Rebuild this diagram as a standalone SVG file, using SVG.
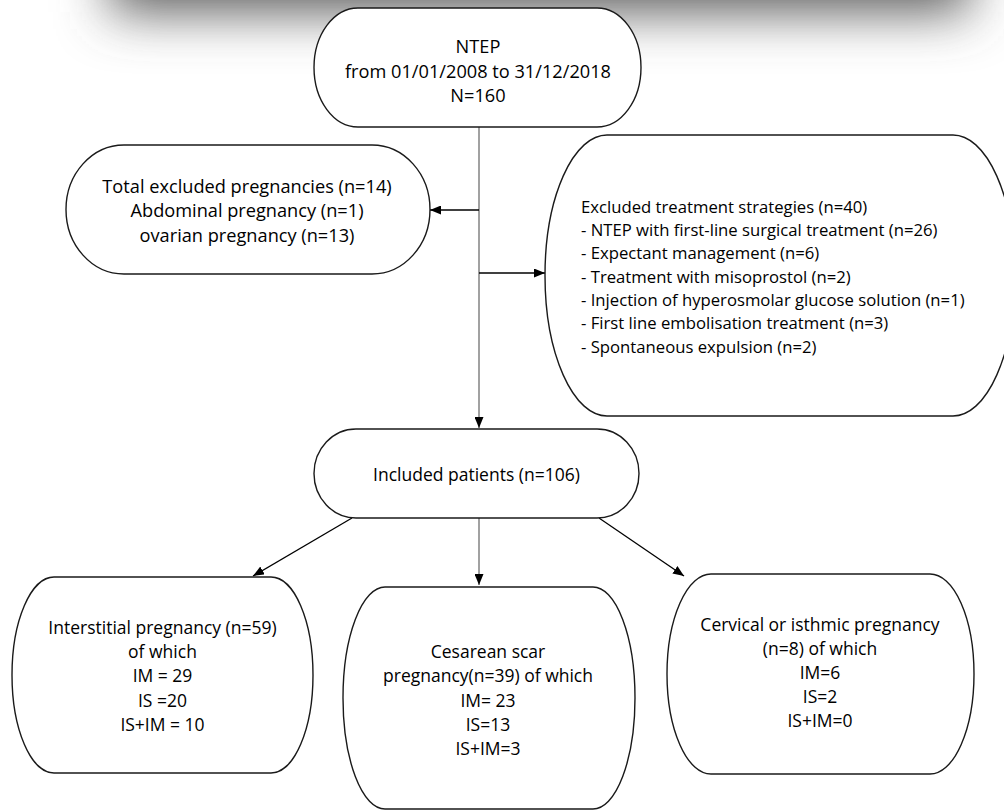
<svg xmlns="http://www.w3.org/2000/svg" width="1004" height="810" viewBox="0 0 1004 810">
  <defs>
    <filter id="shadowBlur" filterUnits="userSpaceOnUse" x="-200" y="-400" width="1400" height="600">
      <feGaussianBlur stdDeviation="26"/>
    </filter>
    <marker id="arrow" markerUnits="userSpaceOnUse" markerWidth="11" markerHeight="9" refX="11" refY="4.5" orient="auto">
      <path d="M0,0 L11,4.5 L0,9 z" fill="#000"/>
    </marker>
    <style>
      .node { fill: #fff; stroke: #1a1a1a; stroke-width: 1.4; }
      .lbl { font-family: "Open Sans", "Liberation Sans", sans-serif; font-size: 17.5px; fill: #000; }
      .big { font-size: 18.2px; }
      .med { font-size: 16.7px; }
      .c { text-anchor: middle; }
      .conn { stroke: #000; stroke-width: 1.3; fill: none; }
      .vconn { stroke: #8a8a8a; stroke-width: 1.6; fill: none; }
    </style>
  </defs>
  <rect width="1004" height="810" fill="#fff"/>
  <!-- top shadow band -->
  <rect x="110" y="-200" width="860" height="212" fill="#5c5c5c" filter="url(#shadowBlur)"/>

  <g id="connectors">
    <line class="vconn" x1="479" y1="127" x2="479" y2="428" marker-end="url(#arrow)"/>
    <line class="conn" x1="479" y1="210" x2="430" y2="210" marker-end="url(#arrow)"/>
    <line class="conn" x1="479" y1="273" x2="545" y2="273" marker-end="url(#arrow)"/>
    <line class="conn" x1="352" y1="518" x2="253" y2="576" marker-end="url(#arrow)"/>
    <line class="vconn" x1="479" y1="518" x2="479" y2="585" marker-end="url(#arrow)"/>
    <line class="conn" x1="599" y1="518" x2="684" y2="576" marker-end="url(#arrow)"/>
  </g>

  <g id="ntep">
    <rect class="node" x="314" y="8" width="327" height="119" rx="44" ry="59.5"/>
    <text class="lbl big c" x="478" y="53">NTEP</text>
    <text class="lbl big c" x="478" y="78">from 01/01/2008 to 31/12/2018</text>
    <text class="lbl big c" x="478" y="102">N=160</text>
  </g>

  <g id="excluded-pregnancies">
    <rect class="node" x="66" y="145" width="364" height="129" rx="58" ry="64.5"/>
    <text class="lbl big c" x="247" y="193">Total excluded pregnancies (n=14)</text>
    <text class="lbl big c" x="247" y="217">Abdominal pregnancy (n=1)</text>
    <text class="lbl big c" x="247" y="242">ovarian pregnancy (n=13)</text>
  </g>

  <g id="excluded-treatments">
    <rect class="node" x="545" y="135" width="470" height="281" rx="62" ry="140.5"/>
    <text class="lbl med" x="581" y="213">Excluded treatment strategies (n=40)</text>
    <text class="lbl med" x="581" y="236">- NTEP with first-line surgical treatment (n=26)</text>
    <text class="lbl med" x="581" y="259">- Expectant management (n=6)</text>
    <text class="lbl med" x="581" y="282.5">- Treatment with misoprostol (n=2)</text>
    <text class="lbl med" x="581" y="305.5">- Injection of hyperosmolar glucose solution (n=1)</text>
    <text class="lbl med" x="581" y="329">- First line embolisation treatment (n=3)</text>
    <text class="lbl med" x="581" y="352.5">- Spontaneous expulsion (n=2)</text>
  </g>

  <g id="included">
    <rect class="node" x="314" y="429" width="325" height="89" rx="42" ry="44.5"/>
    <text class="lbl c" x="476.5" y="481">Included patients (n=106)</text>
  </g>

  <g id="interstitial">
    <rect class="node" x="12" y="577" width="301" height="196" rx="42" ry="98"/>
    <text class="lbl c" x="162.5" y="634">Interstitial pregnancy (n=59)</text>
    <text class="lbl c" x="162.5" y="657.5">of which</text>
    <text class="lbl c" x="162.5" y="682">IM = 29</text>
    <text class="lbl c" x="162.5" y="706.5">IS =20</text>
    <text class="lbl c" x="162.5" y="730.5">IS+IM = 10</text>
  </g>

  <g id="cesarean">
    <rect class="node" x="343" y="587" width="292" height="222" rx="42" ry="111"/>
    <text class="lbl c" x="488" y="658">Cesarean scar</text>
    <text class="lbl c" x="488" y="682">pregnancy(n=39) of which</text>
    <text class="lbl c" x="488" y="706.5">IM= 23</text>
    <text class="lbl c" x="488" y="731">IS=13</text>
    <text class="lbl c" x="488" y="755">IS+IM=3</text>
  </g>

  <g id="cervical">
    <rect class="node" x="667" y="574" width="307" height="200" rx="44" ry="100"/>
    <text class="lbl c" x="820" y="631">Cervical or isthmic pregnancy</text>
    <text class="lbl c" x="820" y="654.5">(n=8) of which</text>
    <text class="lbl c" x="820" y="679">IM=6</text>
    <text class="lbl c" x="820" y="703">IS=2</text>
    <text class="lbl c" x="820" y="727">IS+IM=0</text>
  </g>
</svg>
